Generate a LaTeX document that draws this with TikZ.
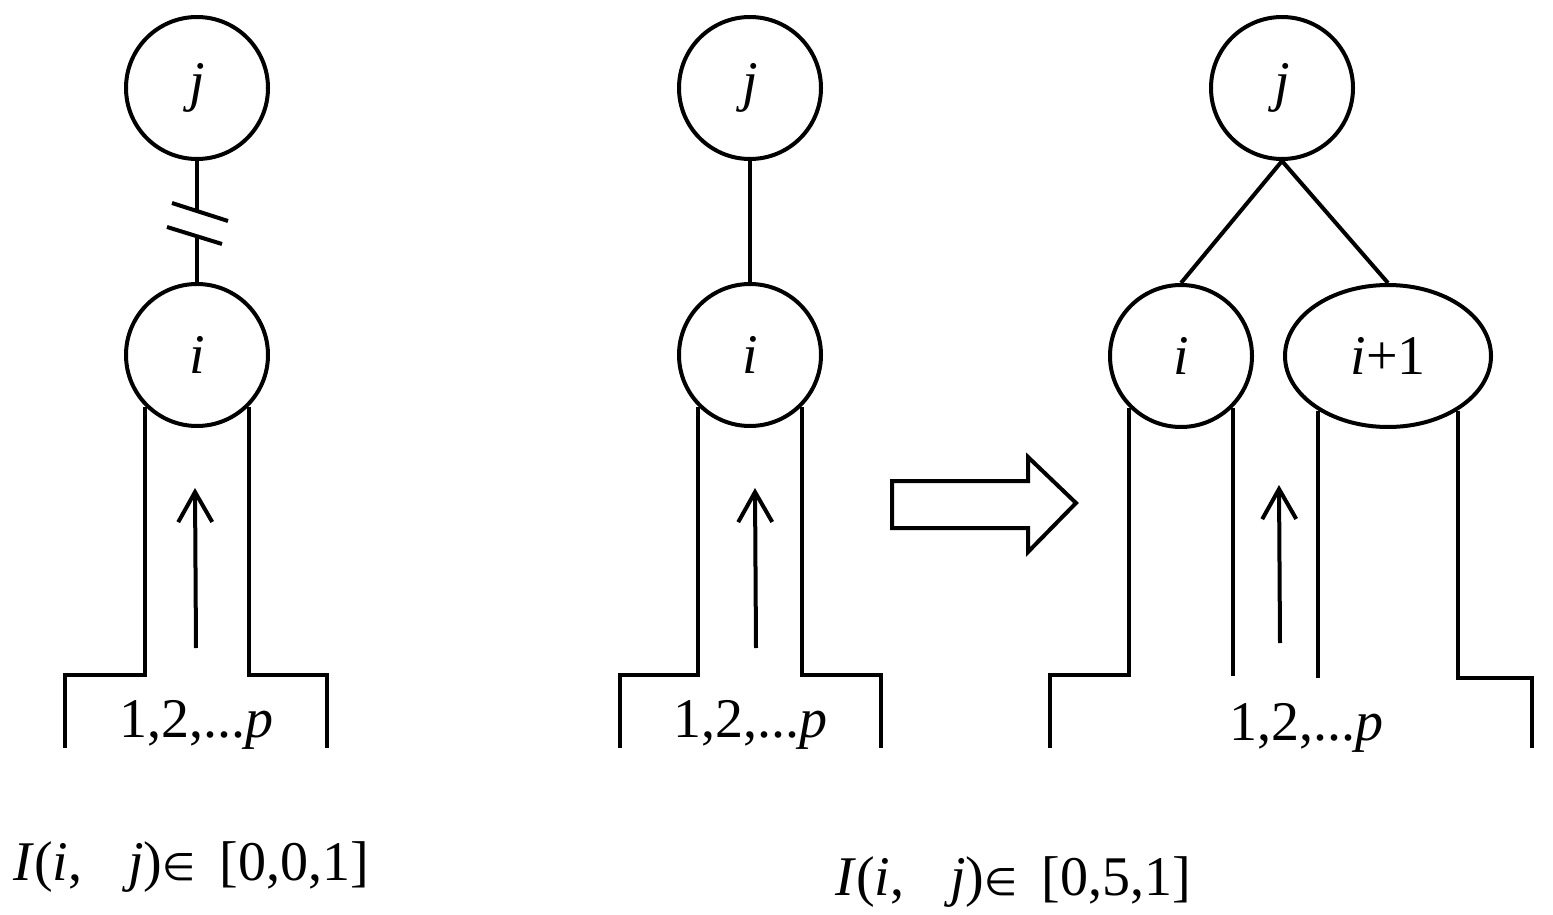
\documentclass[tikz,border=0pt]{standalone}
\usepackage{fontspec}
\setmainfont{Liberation Serif}
\newfontfamily\symfont{DejaVu Sans}
\newcommand\elmsym{{\fontsize{38}{44}\selectfont\symfont ∈}}
\usetikzlibrary{arrows.meta,shapes.geometric,calc}
\begin{document}
\begin{tikzpicture}[x=1pt,y=-1pt,
  wall/.style={line width=4pt},
  nd/.style={circle, draw, line width=4pt, minimum size=142pt, inner sep=0pt,
    font=\fontsize{56}{60}\selectfont\itshape},
  el/.style={ellipse, draw, line width=4pt, minimum width=206pt, minimum height=142pt,
    inner sep=0pt, font=\fontsize{56}{60}\selectfont},
  lbl/.style={font=\fontsize{56}{60}\selectfont, inner sep=0pt},
  up/.style={line width=4pt, -{Straight Barb[length=30pt,width=34pt]}}
]
\useasboundingbox (0,0) rectangle (1553,915);

% ---------- panel 1 ----------
\node[nd] (j1) at (197,88) {j};
\node[nd] (i1) at (197,355) {i};
\coordinate (b1a) at (197,212);
\coordinate (b1b) at (197,236);
\draw[wall] (j1.south) -- (b1a);
\draw[wall] (b1b) -- (i1.north);
\draw[wall] (172,203) -- (228,221);
\draw[wall] (167,227) -- (222,244);
\draw[wall] (i1.-135) -- (i1.-135 |- 0,675) -- (65,675) -- (65,748);
\draw[wall] (i1.-45) -- (i1.-45 |- 0,675) -- (327,675) -- (327,748);
\coordinate (a1s) at (196,648);
\coordinate (a1e) at (195,488);
\draw[up] (a1s) -- (a1e);
\node[lbl, anchor=base] (p1) at (196,737) {1,2,...\textit{p}};
\node[lbl, anchor=base west] (c1) at (13,880)
  {\textit{I}(\textit{i},\hspace{46pt}\textit{j})\elmsym\hspace{24pt}[0,0,1]};

% ---------- panel 2 ----------
\node[nd] (j2) at (750,88) {j};
\node[nd] (i2) at (750,355) {i};
\draw[wall] (j2) -- (i2);
\draw[wall] (i2.-135) -- (i2.-135 |- 0,675) -- (620,675) -- (620,748);
\draw[wall] (i2.-45) -- (i2.-45 |- 0,675) -- (881,675) -- (881,748);
\coordinate (a2s) at (756,648);
\coordinate (a2e) at (755,488);
\draw[up] (a2s) -- (a2e);
\node[lbl, anchor=base] (p2) at (750,737) {1,2,...\textit{p}};

% big hollow arrow
\draw[line width=4pt, line join=miter]
  (892,481) -- (1028,481) -- (1028,457) -- (1076,503) -- (1028,552)
  -- (1028,528) -- (892,528) -- cycle;

\node[lbl, anchor=base west] (c2) at (835,895)
  {\textit{I}(\textit{i},\hspace{46pt}\textit{j})\elmsym\hspace{24pt}[0,5,1]};

% ---------- panel 3 ----------
\node[nd] (j3) at (1282,88) {j};
\node[nd] (i3) at (1181,356) {i};
\node[el] (e3) at (1388,356) {\textit{i}+1};
\draw[wall] (j3.south) -- (i3.north);
\draw[wall] (j3.south) -- (e3.north);
\draw[wall] (i3.-135) -- (i3.-135 |- 0,675) -- (1050,675) -- (1050,748);
\draw[wall] (i3.-45) -- (i3.-45 |- 0,676);
\draw[wall] (e3.-142) -- (e3.-142 |- 0,678);
\draw[wall] (e3.-38) -- (e3.-38 |- 0,678) -- (1532,678) -- (1532,748);
\coordinate (a3s) at (1280,643);
\coordinate (a3e) at (1279,485);
\draw[up] (a3s) -- (a3e);
\node[lbl, anchor=base] (p3) at (1306,740) {1,2,...\textit{p}};
\end{tikzpicture}
\end{document}
